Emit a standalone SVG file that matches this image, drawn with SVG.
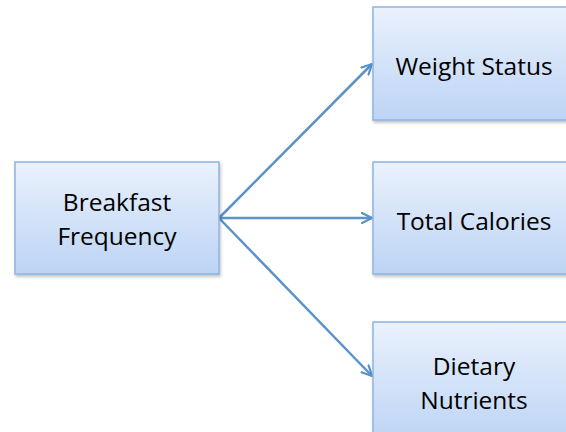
<svg xmlns="http://www.w3.org/2000/svg" width="566" height="432" viewBox="0 0 566 432">
<style>
.box{fill:url(#g);stroke:#8fb4df;stroke-width:1.5}
.t{font-family:"Open Sans","Noto Sans",sans-serif;font-size:24.5px;fill:#000;text-anchor:middle}
.c{stroke:#5b93c9;stroke-width:2.5;fill:none;marker-end:url(#a)}
</style>
<defs>
<linearGradient id="g" x1="0" y1="0" x2="0" y2="1">
<stop offset="0" stop-color="#eaf1fc"/>
<stop offset="1" stop-color="#bcd4f5"/>
</linearGradient>
<filter id="s" x="-10%" y="-10%" width="130%" height="130%">
<feDropShadow dx="1" dy="2" stdDeviation="1.5" flood-color="#000" flood-opacity="0.25"/>
</filter>
<marker id="a" viewBox="0 0 12 12" refX="11" refY="6" markerWidth="12" markerHeight="12" markerUnits="userSpaceOnUse" orient="auto">
<path d="M1,1 L11,6 L1,11" fill="none" stroke="#5b93c9" stroke-width="2.2" stroke-linecap="round" stroke-linejoin="round"/>
</marker>
</defs>
<g id="connectors">
<line class="c" x1="219" y1="218" x2="372" y2="64"/>
<line class="c" x1="219" y1="218" x2="372" y2="218"/>
<line class="c" x1="219" y1="218" x2="372" y2="376"/>
</g>
<g id="breakfast">
<rect class="box" x="15" y="162" width="204" height="112" filter="url(#s)"/>
<text class="t" x="117" y="211">Breakfast</text>
<text class="t" x="117" y="245">Frequency</text>
</g>
<g id="weight">
<rect class="box" x="373" y="7" width="204" height="113" filter="url(#s)"/>
<text class="t" x="474" y="75">Weight Status</text>
</g>
<g id="calories">
<rect class="box" x="373" y="162" width="204" height="112" filter="url(#s)"/>
<text class="t" x="474" y="230">Total Calories</text>
</g>
<g id="nutrients">
<rect class="box" x="373" y="322" width="204" height="120" filter="url(#s)"/>
<text class="t" x="474" y="375">Dietary</text>
<text class="t" x="474" y="409">Nutrients</text>
</g>
</svg>
